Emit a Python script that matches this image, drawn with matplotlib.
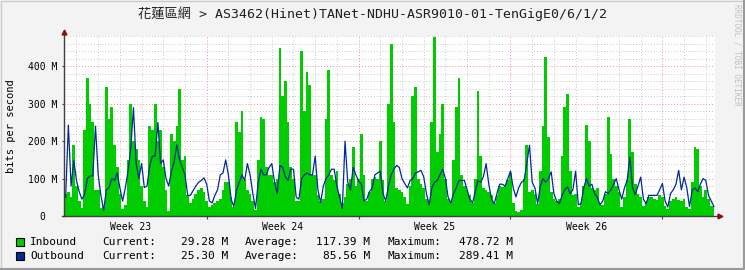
import numpy as np
import matplotlib
matplotlib.use("Agg")
import matplotlib.pyplot as plt
from matplotlib.patches import Rectangle
from matplotlib.lines import Line2D

# time axis: days since the start of week 23, one sample every 3 hours
T_START = 0.375
T_STEP = 0.125

# traffic in Mbit/s
INBOUND = [
    45, 60, 65, 50, 190,
    80, 40, 22, 230, 370, 300, 250, 70,
    70, 22, 25, 345, 260, 290, 190, 130,
    60, 20, 30, 150, 300, 200, 180, 150,
    80, 40, 25, 240, 230, 300, 200, 230,
    130, 70, 13, 220, 200, 240, 340, 150,
    160, 55, 35, 45, 60, 70, 75, 65,
    40, 25, 30, 35, 40, 45, 70, 90,
    90, 50, 25, 250, 225, 280, 95, 70,
    60, 40, 15, 150, 265, 260, 130, 110,
    110, 90, 100, 450, 320, 360, 250, 130,
    100, 40, 40, 440, 280, 385, 350, 110,
    110, 55, 40, 45, 260, 390, 110, 95,
    120, 60, 35, 50, 85, 100, 185, 80,
    100, 220, 110, 40, 65, 100, 105, 100,
    200, 95, 40, 300, 460, 250, 75, 70,
    65, 50, 33, 80, 320, 345, 100, 85,
    75, 45, 40, 250, 478.7, 170, 220, 300,
    100, 45, 40, 150, 290, 370, 110, 80,
    70, 55, 35, 100, 335, 160, 75, 70,
    65, 55, 35, 55, 80, 78, 80, 95,
    115, 35, 14, 12, 15, 100, 190, 65,
    70, 60, 33, 120, 240, 426, 210, 65,
    45, 40, 45, 160, 290, 327, 120, 55,
    60, 24, 35, 80, 243, 200, 75, 70,
    75, 33, 30, 60, 265, 165, 100, 80,
    65, 24, 50, 95, 260, 170, 85, 60,
    50, 28, 35, 50, 50, 45, 42, 55,
    50, 28, 20, 40, 45, 50, 42, 40,
    45, 25, 18, 90, 185, 180, 80, 50,
    70, 45, 28, 29.28,
]

OUTBOUND = [
    50, 50, 243, 80, 148,
    95, 65, 45, 58, 100, 107, 107, 240,
    110, 55, 15, 70, 76, 100, 95, 115,
    75, 40, 75, 120, 180, 289.4, 140, 100,
    140, 76, 80, 135, 160, 160, 250, 140,
    150, 100, 80, 120, 145, 190, 150, 130,
    110, 55, 55, 68, 80, 90, 95, 102,
    85, 40, 35, 55, 70, 110, 115, 150,
    110, 45, 25, 70, 90, 110, 95, 140,
    110, 60, 20, 90, 125, 110, 110, 130,
    140, 90, 60, 135, 130, 105, 95, 125,
    125, 50, 45, 100, 110, 115, 110, 110,
    160, 70, 36, 80, 100, 110, 125, 125,
    80, 50, 20, 200, 90, 70, 130, 110,
    94, 85, 40, 45, 65, 75, 110, 115,
    120, 60, 40, 80, 110, 125, 135, 130,
    100, 87, 75, 95, 100, 115, 118, 122,
    105, 60, 30, 75, 90, 95, 110, 125,
    100, 50, 35, 60, 75, 95, 95, 95,
    70, 45, 35, 65, 95, 90, 105, 140,
    85, 45, 33, 60, 85, 85, 80, 100,
    120, 75, 51, 75, 90, 95, 140, 189,
    90, 75, 33, 80, 100, 90, 100, 118,
    60, 40, 33, 55, 70, 78, 60, 70,
    120, 30, 33, 75, 100, 80, 85, 60,
    50, 30, 40, 65, 60, 70, 85, 100,
    70, 45, 75, 95, 158, 75, 58, 80,
    104, 45, 33, 55, 55, 55, 55, 70,
    87, 40, 24, 60, 70, 85, 122, 70,
    104, 75, 25, 70, 75, 65, 85, 100,
    95, 55, 40, 25.3,
]

TITLE = "花蓮區網 > AS3462(Hinet)TANet-NDHU-ASR9010-01-TenGigE0/6/1/2"
Y_TICKS = [0, 100, 200, 300, 400]
Y_LABELS = ["0  ", "100 M", "200 M", "300 M", "400 M"]
WEEK_LABELS = ["Week 23", "Week 24", "Week 25", "Week 26"]

SERIES = ["Inbound", "Outbound"]
COLORS = ["#00CC00", "#002A97"]
CURRENT = ["29.28 M", "25.30 M"]
AVERAGE = ["117.39 M", "85.56 M"]
MAXIMUM = ["478.72 M", "289.41 M"]

MONO = ["DejaVu Sans Mono", "Noto Sans CJK TC"]
W, H = 745, 270

times = T_START + T_STEP * np.arange(len(INBOUND))

fig = plt.figure(figsize=(W / 100, H / 100), dpi=100, facecolor="#F3F3F3")
ax = fig.add_axes([64 / W, (H - 216) / H, 651 / W, 180 / H])
ax.set_facecolor("white")
ax.set_xlim(0.424, 30.424)
ax.set_ylim(0, 481)

# grid: minor every day / 20 M, major every week / 100 M
dots = (0, (1, 2))
for d in range(1, 31):
    major = d % 7 == 0
    ax.axvline(d, color="#F09090" if major else "#C8C8C8", lw=0.7, ls=dots, zorder=0)
for v in range(20, 481, 20):
    major = v % 100 == 0
    ax.axhline(v, color="#F09090" if major else "#C8C8C8", lw=0.7, ls=dots, zorder=0)

# rrdtool paints the area as steps, the line point to point
ax.fill_between(times, INBOUND, step="mid", color=COLORS[0], lw=0, zorder=2)
ax.plot(times, OUTBOUND, color=COLORS[1], lw=0.9, zorder=3)

# axes with arrows, rrdtool style
for s in ax.spines.values():
    s.set_visible(False)
ax.add_line(Line2D([0, 0], [0, 1.02], transform=ax.transAxes, color="#404040",
                   lw=1, clip_on=False, zorder=4))
ax.add_line(Line2D([-0.003, 1.005], [0, 0], transform=ax.transAxes, color="#404040",
                   lw=1, clip_on=False, zorder=4))
ax.plot(0, 1.025, marker="^", ms=3.5, color="#8B1010", transform=ax.transAxes,
        clip_on=False, zorder=5)
ax.plot(1.007, 0, marker=">", ms=3.5, color="#8B1010", transform=ax.transAxes,
        clip_on=False, zorder=5)

ax.set_yticks(Y_TICKS)
ax.set_yticklabels(Y_LABELS, family=MONO, fontsize=7)
ax.tick_params(axis="y", length=1.5, width=0.8, color="#404040", pad=3)

ax.set_xticks([7, 14, 21, 28])
ax.set_xticklabels([])
ax.set_xticks([3.5, 10.5, 17.5, 24.5], minor=True)
ax.set_xticklabels(WEEK_LABELS, minor=True, family=MONO, fontsize=7)
ax.tick_params(axis="x", which="major", length=2, width=0.8, color="#404040")
ax.tick_params(axis="x", which="minor", length=0, pad=4)

fig.text(372 / W, 1 - 14 / H, TITLE, ha="center", va="center", fontsize=9.5,
         family=MONO, color="#202020")
fig.text(11 / W, 1 - 126 / H, "bits per second", rotation=90, ha="center",
         va="center", fontsize=7.5, family=MONO)
fig.text(737 / W, 1 - 4 / H, "RRDTOOL / TOBI OETIKER", rotation=270, ha="center",
         va="top", fontsize=5.5, family=MONO, color="#C0C0C0")

# legend rows
for i, name in enumerate(SERIES):
    yc = 242 + 14 * i
    fig.patches.append(Rectangle((16 / W, 1 - (yc + 4) / H), 8 / W, 8 / H,
                                 transform=fig.transFigure, facecolor=COLORS[i],
                                 edgecolor="black", lw=0.8))
    y = 1 - yc / H
    kw = dict(va="center", fontsize=8, family=MONO)
    fig.text(30 / W, y, name, ha="left", **kw)
    fig.text(102 / W, y, "Current:", ha="left", **kw)
    fig.text(228 / W, y, CURRENT[i], ha="right", **kw)
    fig.text(245 / W, y, "Average:", ha="left", **kw)
    fig.text(370 / W, y, AVERAGE[i], ha="right", **kw)
    fig.text(387 / W, y, "Maximum:", ha="left", **kw)
    fig.text(513 / W, y, MAXIMUM[i], ha="right", **kw)

# outer frame
fig.add_artist(Line2D([0.5 / W, 0.5 / W, 1 - 0.5 / W], [0, 1 - 0.5 / H, 1 - 0.5 / H],
                      transform=fig.transFigure, color="#CBCBCB", lw=1))
fig.add_artist(Line2D([1 / W, 1 - 1 / W, 1 - 1 / W], [1 / H, 1 / H, 1],
                      transform=fig.transFigure, color="#999999", lw=1.5))

fig.savefig("out.png", dpi=100)
